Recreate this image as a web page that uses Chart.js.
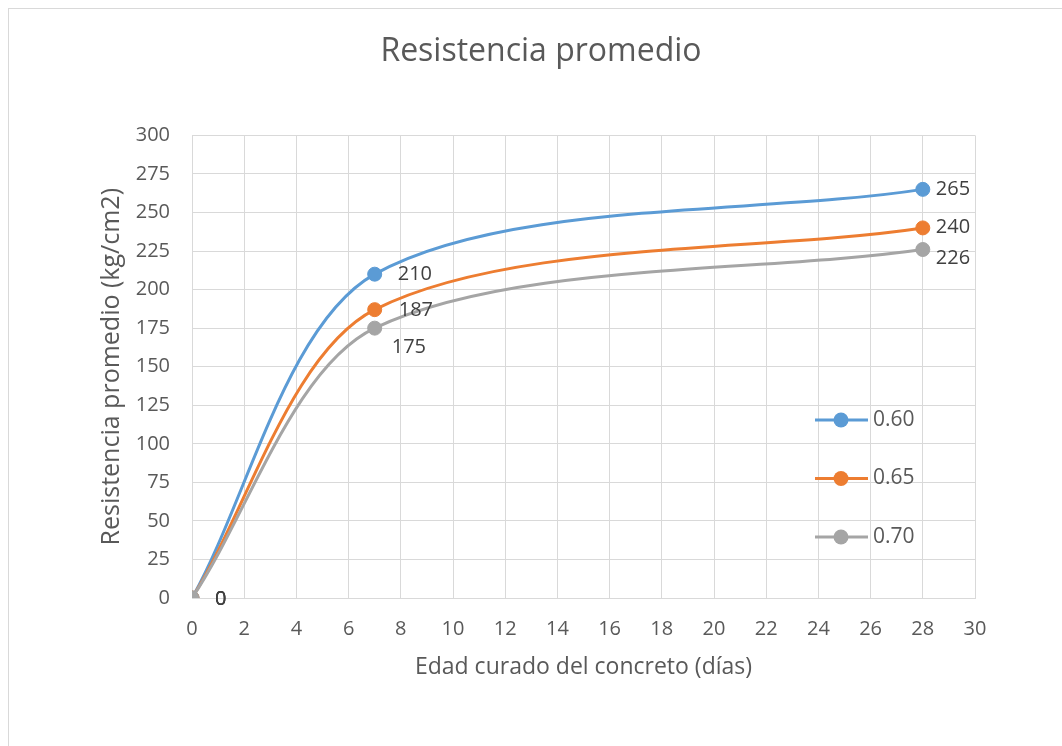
<!DOCTYPE html>
<html>
<head>
<meta charset="utf-8">
<script src="https://cdn.jsdelivr.net/npm/chart.js@4.4.1/dist/chart.umd.min.js"></script>
<style>
  html, body { margin: 0; padding: 0; background: #ffffff; }
  #wrap { width: 1062px; height: 746px; }
</style>
</head>
<body>
<div id="wrap"><canvas id="chart" width="1062" height="746"></canvas></div>
<script>
// Curing age (days) and average strength (kg/cm2) per water/cement ratio
const days = [0, 7, 28];
const ratio060 = [0, 210, 265];
const ratio065 = [0, 187, 240];
const ratio070 = [0, 175, 226];
const seriesNames = ['0.60', '0.65', '0.70'];
const seriesColors = ['#5B9BD5', '#ED7D31', '#A5A5A5'];

// Axis tick labels
const xTickValues = [0, 2, 4, 6, 8, 10, 12, 14, 16, 18, 20, 22, 24, 26, 28, 30];
const yTickValues = [0, 25, 50, 75, 100, 125, 150, 175, 200, 225, 250, 275, 300];

// Where each value label sits relative to its marker (dx, dy in px)
const labelOffsets = [
  [[23, 1], [23, 0], [13, 0]],
  [[23, 1], [24, 1], [13, -1]],
  [[23, 1], [17, 19], [13, 9]]
];

const FONT = '"Open Sans", "Liberation Sans", sans-serif';
const TEXT = '#595959';
const GRID = '#D9D9D9';

const toPoints = vals => days.map((d, i) => ({ x: d, y: vals[i] }));
const seriesValues = [ratio060, ratio065, ratio070];

const datasets = seriesValues.map((vals, i) => ({
  label: seriesNames[i],
  data: toPoints(vals),
  showLine: true,
  tension: 0.3,
  borderColor: seriesColors[i],
  backgroundColor: seriesColors[i],
  borderWidth: 3,
  pointRadius: 7,
  pointBorderWidth: 1,
  pointBackgroundColor: seriesColors[i],
  pointBorderColor: seriesColors[i],
  order: seriesValues.length - i
}));

// Outer frame of the chart
const framePlugin = {
  id: 'frame',
  beforeDraw(chart) {
    const ctx = chart.ctx;
    ctx.save();
    ctx.fillStyle = '#ffffff';
    ctx.fillRect(0, 0, chart.width, chart.height);
    ctx.strokeStyle = GRID;
    ctx.lineWidth = 1;
    ctx.strokeRect(8.5, 8.5, chart.width + 40, chart.height + 40);
    ctx.restore();
  }
};

// Value labels next to each marker
const valueLabelPlugin = {
  id: 'valueLabels',
  afterDatasetsDraw(chart) {
    const ctx = chart.ctx;
    ctx.save();
    ctx.font = '20px ' + FONT;
    ctx.fillStyle = '#404040';
    ctx.textAlign = 'left';
    ctx.textBaseline = 'middle';
    chart.data.datasets.forEach((ds, di) => {
      const meta = chart.getDatasetMeta(di);
      meta.data.forEach((pt, pi) => {
        const off = labelOffsets[di][pi];
        ctx.fillText(String(ds.data[pi].y), pt.x + off[0], pt.y + off[1]);
      });
    });
    ctx.restore();
  }
};

// Legend placed inside the plot, on the right
const insideLegendPlugin = {
  id: 'insideLegend',
  afterDatasetsDraw(chart) {
    const ctx = chart.ctx;
    const x0 = 815, x1 = 868, xm = 841, xt = 873, y0 = 420, gap = 58.5;
    ctx.save();
    chart.data.datasets.forEach((ds, i) => {
      const y = y0 + i * gap;
      ctx.strokeStyle = ds.borderColor;
      ctx.lineWidth = 3;
      ctx.beginPath();
      ctx.moveTo(x0, y);
      ctx.lineTo(x1, y);
      ctx.stroke();
      ctx.fillStyle = ds.borderColor;
      ctx.beginPath();
      ctx.arc(xm, y, 7.5, 0, Math.PI * 2);
      ctx.fill();
      ctx.fillStyle = TEXT;
      ctx.font = '21px ' + FONT;
      ctx.textAlign = 'left';
      ctx.textBaseline = 'middle';
      ctx.fillText(ds.label, xt, y);
    });
    ctx.restore();
  }
};

new Chart(document.getElementById('chart'), {
  type: 'scatter',
  data: { datasets },
  plugins: [framePlugin, valueLabelPlugin, insideLegendPlugin],
  options: {
    responsive: false,
    animation: false,
    devicePixelRatio: 1,
    layout: { padding: { left: 107, right: 87, top: 0, bottom: 0 } },
    plugins: {
      legend: { display: false },
      tooltip: { enabled: false },
      title: {
        display: true,
        text: 'Resistencia promedio',
        color: TEXT,
        font: { family: FONT, size: 32, weight: 'normal' },
        padding: { top: 33, bottom: 64 }
      }
    },
    scales: {
      x: {
        type: 'linear',
        min: 0,
        max: 30,
        afterBuildTicks(scale) { scale.ticks = xTickValues.map(v => ({ value: v })); },
        afterFit(scale) { scale.height = 148; },
        grid: { color: GRID, lineWidth: 1, drawTicks: false },
        border: { color: GRID, width: 1 },
        ticks: { color: TEXT, font: { family: FONT, size: 20 }, padding: 19, maxRotation: 0 },
        title: {
          display: true,
          text: 'Edad curado del concreto (días)',
          color: TEXT,
          font: { family: FONT, size: 23 },
          padding: { top: 0, bottom: 65 }
        }
      },
      y: {
        type: 'linear',
        min: 0,
        max: 300,
        afterBuildTicks(scale) { scale.ticks = yTickValues.map(v => ({ value: v })); },
        afterFit(scale) { scale.width = 85; },
        grid: { color: GRID, lineWidth: 1, drawTicks: false },
        border: { color: GRID, width: 1 },
        ticks: { color: TEXT, font: { family: FONT, size: 20 }, padding: 22 },
        title: {
          display: true,
          text: 'Resistencia promedio (kg/cm2)',
          color: TEXT,
          font: { family: FONT, size: 25 },
          padding: { top: -10, bottom: 0 }
        }
      }
    }
  }
});
</script>
</body>
</html>
